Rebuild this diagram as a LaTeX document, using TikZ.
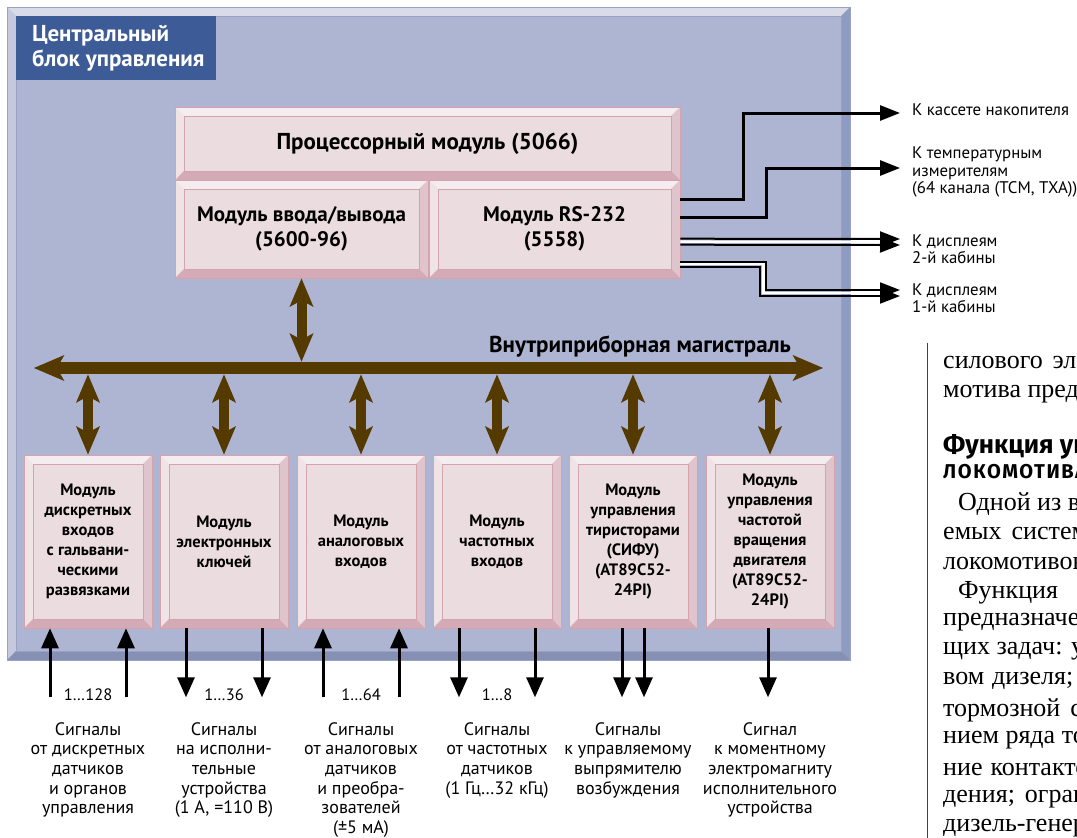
\documentclass[tikz,border=0pt]{standalone}
\usepackage{fontspec}
\setmainfont{PT Sans}
\newfontfamily\pagefont{Liberation Serif}
\newfontfamily\headfont{Fira Sans}
\usetikzlibrary{calc, arrows.meta}

\definecolor{panelface}{HTML}{AEB5D3}
\definecolor{paneltop}{HTML}{DADBE8}
\definecolor{panelleft}{HTML}{C6C9DD}
\definecolor{panelright}{HTML}{8E9CC1}
\definecolor{panelbot}{HTML}{8690B5}
\definecolor{paneledge}{HTML}{9AA2C4}
\definecolor{titleblue}{HTML}{3D5B97}
\definecolor{modface}{HTML}{EBDCE0}
\definecolor{modtop}{HTML}{F4ECEE}
\definecolor{modleft}{HTML}{F0E3E6}
\definecolor{modright}{HTML}{DFC4CC}
\definecolor{modbot}{HTML}{D4AAB6}
\definecolor{modedge}{HTML}{D3A3B0}
\definecolor{busbrown}{HTML}{553A00}

\tikzset{>=latex,
  bevel/.style n args={6}{path picture={
    \fill[#1] (path picture bounding box.north west) -- (path picture bounding box.north east)
      -- ([shift={(-#5,-#5)}]path picture bounding box.north east) -- ([shift={(#5,-#5)}]path picture bounding box.north west) -- cycle;
    \fill[#2] (path picture bounding box.north west) -- ([shift={(#5,-#5)}]path picture bounding box.north west)
      -- ([shift={(#5,#5)}]path picture bounding box.south west) -- (path picture bounding box.south west) -- cycle;
    \fill[#3] (path picture bounding box.north east) -- ([shift={(-#5,-#5)}]path picture bounding box.north east)
      -- ([shift={(-#5,#5)}]path picture bounding box.south east) -- (path picture bounding box.south east) -- cycle;
    \fill[#4] (path picture bounding box.south west) -- ([shift={(#5,#5)}]path picture bounding box.south west)
      -- ([shift={(-#5,#5)}]path picture bounding box.south east) -- (path picture bounding box.south east) -- cycle;
    \draw[#6, line width=0.6pt] ([shift={(#5,-#5)}]path picture bounding box.north west) rectangle ([shift={(-#5,#5)}]path picture bounding box.south east);
  }},
  panelbox/.style={fill=panelface, draw=paneledge, line width=0.6pt, inner sep=0pt,
    bevel={paneltop}{panelleft}{panelright}{panelbot}{9pt}{paneledge}},
  titlebox/.style={fill=titleblue, text=white, minimum width=200, minimum height=64, inner sep=0pt,
    align=left, font=\bfseries\fontsize{23}{25}\selectfont},
  modbox/.style={fill=modface, draw=modedge, line width=0.6pt, inner sep=0pt, align=center,
    font=\bfseries\fontsize{16.5}{20}\selectfont, bevel={modtop}{modleft}{modright}{modbot}{9pt}{modedge}},
  topbox/.style={modbox, font=\bfseries\fontsize{21}{25}\selectfont},
  busline/.style={busbrown, line width=12pt,
    {Stealth[length=30pt,width=25pt,inset=7pt]}-{Stealth[length=30pt,width=25pt,inset=7pt]}},
  buslink/.style={busbrown, line width=10pt,
    {Stealth[length=28pt,width=23pt,inset=6pt]}-{Stealth[length=28pt,width=23pt,inset=6pt]}},
  sigarrow/.style={line width=3pt, -{Triangle[length=20pt,width=17pt]}},
  wire/.style={line width=3pt, -{Triangle[length=20pt,width=15pt]}},
  dwire/.style={line width=2pt, -{Triangle[length=20pt,width=15pt]}},
  gapline/.style={white, line width=2.5pt},
  sigtext/.style={align=center, anchor=north, inner sep=0pt, font=\fontsize{18}{19.6}\selectfont},
  numtext/.style={inner sep=0pt, font=\fontsize{16.5}{18}\selectfont},
  outtext/.style={align=left, anchor=west, inner sep=0pt, font=\fontsize{16.8}{17.3}\selectfont},
  pagetext/.style={anchor=west, inner sep=0pt, font=\pagefont\fontsize{26}{29}\selectfont},
  headtext/.style={anchor=west, inner sep=0pt, font=\headfont\bfseries\fontsize{26}{29}\selectfont}
}

\begin{document}
\begin{tikzpicture}[x=1pt,y=-1pt]
\useasboundingbox (0,0) rectangle (1077,838);
\clip (0,0) rectangle (1077,838);
\fill[white] (0,0) rectangle (1077,838);

% central unit
\node[panelbox, minimum width=843, minimum height=653] (panel) at (428.5,333.5) {};
\node[titlebox] (title) at (116,48) {};
\node[text=white, align=left, inner sep=0pt, anchor=west, font=\bfseries\fontsize{23}{25}\selectfont] (titletext) at (32,48) {Центральный\\блок управления};

% processor part
\node[topbox, minimum width=505, minimum height=73, font=\bfseries\fontsize{23}{25}\selectfont] (cpu) at (427.5,143.5) {Процессорный модуль (5066)};
\node[topbox, minimum width=253, minimum height=98] (io) at (301.5,229) {Модуль ввода/вывода\\(5600-96)};
\node[topbox, minimum width=251, minimum height=98] (rs) at (554.5,229) {Модуль RS-232\\(5558)};

% bus
\node[inner sep=0pt, minimum width=789, minimum height=12] (bus) at (428.5,368) {};
\draw[busline] (bus.west) -- (bus.east);
\node[inner sep=0pt, font=\bfseries\fontsize{23}{25}\selectfont] (buslabel) at (640,346) {Внутриприборная магистраль};
\draw[buslink] (io.south) -- (io.south |- bus.north);

% modules
\node[modbox, minimum width=128, minimum height=173] (m1) at (88,541.5) {Модуль\\дискретных\\входов\\с гальвани-\\ческими\\развязками};
\node[modbox, minimum width=128, minimum height=173] (m2) at (224,541.5) {Модуль\\электронных\\ключей};
\node[modbox, minimum width=128, minimum height=173] (m3) at (361,541.5) {Модуль\\аналоговых\\входов};
\node[modbox, minimum width=128, minimum height=173] (m4) at (497,541.5) {Модуль\\частотных\\входов};
\node[modbox, minimum width=128, minimum height=173] (m5) at (633,541.5) {Модуль\\управления\\тиристорами\\(СИФУ)\\(AT89C52-\\24PI)};
\node[modbox, minimum width=128, minimum height=173] (m6) at (770,541.5) {Модуль\\управления\\частотой\\вращения\\двигателя\\(AT89C52-\\24PI)};

\foreach \m in {m1,m2,m3,m4,m5,m6}
  \draw[buslink] (\m.north) -- (\m.north |- bus.south);

% outputs
\node[outtext] (out1) at (912,110) {К кассете накопителя};
\node[outtext] (out2) at (912,172) {К температурным\\измерителям\\(64 канала (ТСМ, ТХА))};
\node[outtext] (out3) at (912,249) {К дисплеям\\2-й кабины};
\node[outtext] (out4) at (912,298) {К дисплеям\\1-й кабины};

\draw[wire] ($(rs.north east)+(0,20)$) -- ++(63,0) |- ($(out1.west)+(-12,3)$);
\draw[wire] ($(rs.north east)+(0,38)$) -- ++(86,0) |- ($(out2.west)+(-12,-4)$);
\draw[dwire] ($(rs.north east)+(0,59)$) -- ($(out3.west)+(-12,-10)$);
\draw[dwire] ($(rs.north east)+(0,65)$) -- ($(out3.west)+(-12,-4)$);
\draw[gapline] ($(rs.north east)+(0,62)$) -- ($(out3.west)+(-34,-7)$);
\draw[dwire] ($(rs.north east)+(0,82)$) -- ++(86,0) |- ($(out4.west)+(-12,-8)$);
\draw[dwire] ($(rs.north east)+(0,87)$) -- ++(80,0) |- ($(out4.west)+(-12,-2)$);
\draw[gapline] ($(rs.north east)+(0,84.5)$) -- ++(83,0) |- ($(out4.west)+(-34,-5)$);

% signals
\draw[sigarrow] ($(m1.south)+(-38,69)$) -- ($(m1.south)+(-38,0)$);
\draw[sigarrow] ($(m1.south)+(38,69)$) -- ($(m1.south)+(38,0)$);
\draw[sigarrow] ($(m2.south)+(-38,0)$) -- ($(m2.south)+(-38,69)$);
\draw[sigarrow] ($(m2.south)+(38,0)$) -- ($(m2.south)+(38,69)$);
\draw[sigarrow] ($(m3.south)+(-38,69)$) -- ($(m3.south)+(-38,0)$);
\draw[sigarrow] ($(m3.south)+(38,69)$) -- ($(m3.south)+(38,0)$);
\draw[sigarrow] ($(m4.south)+(-38,0)$) -- ($(m4.south)+(-38,69)$);
\draw[sigarrow] ($(m4.south)+(38,0)$) -- ($(m4.south)+(38,69)$);
\draw[sigarrow] ($(m5.south)+(-11,0)$) -- ($(m5.south)+(-11,69)$);
\draw[sigarrow] ($(m5.south)+(11,0)$) -- ($(m5.south)+(11,69)$);
\draw[sigarrow] ($(m6.south)+(-2,0)$) -- ($(m6.south)+(-2,69)$);

\node[numtext] (n1) at ($(m1.south)+(0,66)$) {1…128};
\node[numtext] (n2) at ($(m2.south)+(0,66)$) {1…36};
\node[numtext] (n3) at ($(m3.south)+(0,66)$) {1…64};
\node[numtext] (n4) at ($(m4.south)+(0,66)$) {1…8};

\node[sigtext] (s1) at ($(m1.south)+(0,94)$) {Сигналы\\от дискретных\\датчиков\\и органов\\управления};
\node[sigtext] (s2) at ($(m2.south)+(0,94)$) {Сигналы\\на исполни-\\тельные\\устройства\\(1 А, =110 В)};
\node[sigtext] (s3) at ($(m3.south)+(0,94)$) {Сигналы\\от аналоговых\\датчиков\\и преобра-\\зователей\\(±5 мА)};
\node[sigtext] (s4) at ($(m4.south)+(0,94)$) {Сигналы\\от частотных\\датчиков\\(1 Гц…32 кГц)};
\node[sigtext] (s5) at ($(m5.south)+(-5,94)$) {Сигналы\\к управляемому\\выпрямителю\\возбуждения};
\node[sigtext] (s6) at ($(m6.south)+(0,94)$) {Сигнал\\к моментному\\электромагниту\\исполнительного\\устройства};

% page text
\draw[black!75, line width=0.8pt] (927,343) -- (927,838);
\node[pagetext] (p1) at (943,365) {силового\hspace{10pt}электро};
\node[pagetext] (p2) at (943,394) {мотива предназ};
\node[headtext] (h1) at (943,447) {Функция уп};
\node[headtext, font=\headfont\bfseries\fontsize{20}{24}\selectfont\addfontfeature{LetterSpace=8}] (h2) at (943,472) {ЛОКОМОТИВА};
\node[pagetext] (p3) at (958,504) {Одной из ва};
\node[pagetext] (p4) at (943,533.5) {емых\hspace{10pt}систем};
\node[pagetext] (p5) at (943,563) {локомотивов};
\node[pagetext] (p6) at (958,592.5) {Функция};
\node[pagetext] (p7) at (943,622) {предназначен};
\node[pagetext] (p8) at (943,651.5) {щих задач: уп};
\node[pagetext] (p9) at (943,681) {вом\hspace{8pt}дизеля;};
\node[pagetext] (p10) at (943,710.5) {тормозной\hspace{10pt}сх};
\node[pagetext] (p11) at (943,740) {нием ряда то};
\node[pagetext] (p12) at (943,769.5) {ние\hspace{8pt}контакто};
\node[pagetext] (p13) at (943,799) {дения;\hspace{10pt}огран};
\node[pagetext] (p14) at (943,828.5) {дизель-генера};
\end{tikzpicture}
\end{document}
